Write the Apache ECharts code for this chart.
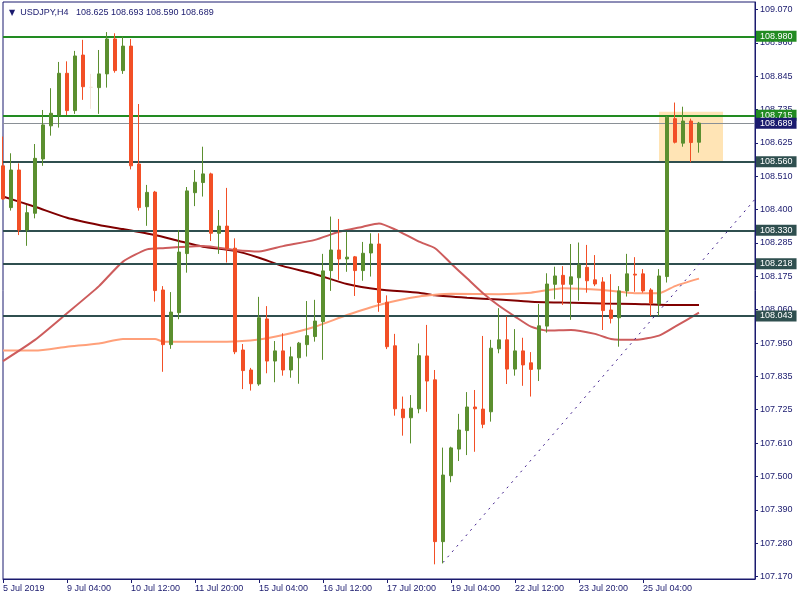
<!DOCTYPE html>
<html>
<head>
<meta charset="utf-8">
<script src="https://cdn.jsdelivr.net/npm/echarts@6/dist/echarts.min.js"></script>
<style>
  html, body { margin: 0; padding: 0; background: #ffffff; }
  #usdjpyChart { width: 800px; height: 600px; }
</style>
</head>
<body>
<div id="usdjpyChart"></div>
<script>
  // USDJPY H4 candles (index 0 = first visible bar)
  var openPrices = [108.546, 108.406, 108.532, 108.331, 108.387, 108.569, 108.680, 108.716, 108.856, 108.731,
    108.917, 108.809, 108.808, 108.854, 108.971, 108.865, 108.947, 108.552, 108.409, 108.458,
    108.130, 107.947, 108.054, 108.252, 108.456, 108.490, 108.519, 108.320, 108.344, 108.270,
    107.929, 107.862, 107.815, 108.033, 107.892, 107.926, 107.862, 107.903, 107.947, 107.974,
    108.024, 108.195, 108.264, 108.234, 108.241, 108.195, 108.254, 108.284, 108.089, 107.943,
    107.731, 107.702, 107.732, 107.909, 107.829, 107.287, 107.508, 107.597, 107.659, 107.738,
    107.731, 107.722, 107.933, 107.963, 107.865, 107.926, 107.886, 107.865, 108.009, 108.149,
    108.179, 108.149, 108.171, 108.206, 108.164, 108.157, 108.063, 108.037, 108.127, 108.183,
    108.184, 108.130, 108.083, 108.175, 108.704, 108.622, 108.696, 108.625];
  var closePrices = [108.435, 108.532, 108.331, 108.389, 108.571, 108.683, 108.722, 108.856, 108.731, 108.914,
    108.811, 108.809, 108.854, 108.971, 108.865, 108.947, 108.546, 108.406, 108.457, 108.128,
    107.947, 108.056, 108.257, 108.462, 108.491, 108.519, 108.320, 108.344, 108.270, 107.923,
    107.860, 107.816, 108.037, 107.892, 107.926, 107.862, 107.906, 107.952, 107.977, 108.026,
    108.194, 108.264, 108.234, 108.240, 108.195, 108.253, 108.284, 108.088, 107.940, 107.732,
    107.702, 107.734, 107.910, 107.825, 107.287, 107.510, 107.601, 107.661, 107.738, 107.732,
    107.680, 107.935, 107.963, 107.865, 107.926, 107.879, 107.864, 108.010, 108.150, 108.177,
    108.149, 108.174, 108.214, 108.161, 108.150, 108.061, 108.035, 108.127, 108.184, 108.180,
    108.127, 108.085, 108.177, 108.709, 108.625, 108.696, 108.624, 108.689];
  var highPrices = [108.644, 108.588, 108.554, 108.415, 108.619, 108.733, 108.806, 108.894, 108.896, 108.931,
    108.968, 108.854, 108.934, 108.994, 108.990, 108.979, 108.971, 108.753, 108.482, 108.462,
    108.143, 108.123, 108.331, 108.475, 108.532, 108.610, 108.523, 108.398, 108.472, 108.303,
    107.949, 107.869, 108.107, 108.076, 107.959, 107.985, 107.940, 107.956, 108.093, 108.097,
    108.251, 108.376, 108.368, 108.325, 108.244, 108.291, 108.320, 108.320, 108.112, 107.983,
    107.773, 107.778, 107.951, 108.013, 107.862, 107.602, 107.605, 107.715, 107.788, 107.795,
    107.976, 107.963, 108.069, 108.041, 107.999, 107.970, 107.922, 108.083, 108.186, 108.208,
    108.210, 108.284, 108.289, 108.281, 108.247, 108.173, 108.183, 108.143, 108.251, 108.240,
    108.200, 108.136, 108.200, 108.713, 108.758, 108.744, 108.704, 108.693];
  var lowPrices = [108.432, 108.396, 108.314, 108.278, 108.370, 108.546, 108.647, 108.674, 108.716, 108.720,
    108.767, 108.737, 108.720, 108.808, 108.858, 108.854, 108.534, 108.396, 108.345, 108.091,
    107.856, 107.933, 108.032, 108.188, 108.411, 108.443, 108.294, 108.251, 108.222, 107.915,
    107.798, 107.793, 107.809, 107.851, 107.821, 107.843, 107.836, 107.816, 107.907, 107.957,
    107.896, 108.127, 108.164, 108.191, 108.110, 108.161, 108.175, 108.057, 107.932, 107.709,
    107.642, 107.616, 107.717, 107.722, 107.211, 107.214, 107.486, 107.557, 107.577, 107.588,
    107.667, 107.689, 107.918, 107.815, 107.843, 107.809, 107.773, 107.825, 107.987, 108.099,
    108.080, 108.030, 108.094, 108.121, 108.143, 107.996, 108.018, 107.940, 108.108, 108.124,
    108.121, 108.043, 108.043, 108.155, 108.621, 108.610, 108.558, 108.590];

  // moving averages, [bar index, price] read at points along each curve
  var maSlow = [[0, 108.443], [4, 108.409], [8, 108.372], [12, 108.348], [15, 108.334], [19, 108.314],
    [22, 108.294], [25, 108.275], [29, 108.261], [32, 108.238], [35, 108.210], [39, 108.183],
    [43, 108.150], [47, 108.132], [52, 108.121], [54, 108.112], [58, 108.104], [62, 108.098],
    [66, 108.091], [70, 108.088], [75, 108.085], [79, 108.083], [83, 108.080], [87, 108.080]];
  var maMid = [[0, 107.892], [4, 107.963], [8, 108.052], [12, 108.143], [15, 108.225], [18, 108.266],
    [20, 108.270], [25, 108.277], [29, 108.264], [32, 108.259], [35, 108.277], [39, 108.298],
    [42, 108.325], [45, 108.342], [47, 108.353], [49, 108.333], [52, 108.292], [54, 108.270],
    [56, 108.219], [58, 108.169], [60, 108.119], [62, 108.077], [64, 108.041], [66, 108.007],
    [68, 107.994], [71, 107.996], [74, 107.983], [76, 107.966], [79, 107.963], [82, 107.977],
    [84, 108.007], [87, 108.054]];
  var maLight = [[0, 107.927], [4, 107.927], [8, 107.940], [12, 107.951], [15, 107.966], [19, 107.966],
    [20, 107.957], [28, 107.957], [32, 107.964], [35, 107.979], [39, 108.007], [43, 108.046],
    [47, 108.080], [52, 108.108], [56, 108.117], [62, 108.116], [66, 108.121], [70, 108.136],
    [75, 108.130], [79, 108.119], [82, 108.119], [84, 108.143], [87, 108.168]];

  var resistanceLevels = [108.980, 108.715];
  var supportLevels = [108.560, 108.330, 108.218, 108.043];
  var bidPrice = 108.689;
  var trendFrom = [55, 107.217];
  var trendTo = [94, 108.434];
  var boxFrom = [82, 108.727];
  var boxTo = [90, 108.557];

  var xTickLabels = ['5 Jul 2019', '9 Jul 04:00', '10 Jul 12:00', '11 Jul 20:00', '15 Jul 04:00', '16 Jul 12:00',
    '17 Jul 20:00', '19 Jul 04:00', '22 Jul 12:00', '23 Jul 20:00', '25 Jul 04:00'];
  var yTickLabels = ['107.170', '107.280', '107.390', '107.500', '107.610', '107.725', '107.835', '107.950', '108.060',
    '108.175', '108.285', '108.400', '108.510', '108.625', '108.735', '108.845', '108.960', '109.070'];

  var barCount = 95; // visible slots incl. empty space on the right
  var barSlots = [];
  for (var i = 0; i < barCount; i++) barSlots.push(String(i));

  var candles = openPrices.map(function (o, i) {
    return [o, closePrices[i], lowPrices[i], highPrices[i]];
  });

  var yFirst = 107.170, yStep = (109.070 - 107.170) / (yTickLabels.length - 1);
  var yTickValues = yTickLabels.map(function (s, i) { return yFirst + i * yStep; });

  var navy = '#1a1a6e';
  var font = 'Liberation Sans';
  var last = candles.length - 1;

  function showTick(index) {
    return index % 8 === 0 && index / 8 < xTickLabels.length;
  }

  function levelLine(value, color, width, boxColor) {
    return {
      yAxis: value,
      lineStyle: {color: color, width: width, type: 'solid'},
      label: {backgroundColor: boxColor || color, formatter: value.toFixed(3)}
    };
  }

  var chart = echarts.init(document.getElementById('usdjpyChart'));
  chart.setOption({
    animation: false,
    backgroundColor: '#ffffff',
    title: {
      left: 4,
      top: 3,
      text: '{tri|▼}  USDJPY,H4   ' + openPrices[last].toFixed(3) + ' ' + highPrices[last].toFixed(3) + ' ' +
        lowPrices[last].toFixed(3) + ' ' + closePrices[last].toFixed(3),
      textStyle: {
        color: navy, fontSize: 9, fontWeight: 'normal', fontFamily: font,
        rich: {tri: {color: navy, fontSize: 8, fontFamily: 'DejaVu Sans'}}
      }
    },
    grid: {left: 3, right: 45, top: 2, bottom: 21, show: true, borderColor: navy, borderWidth: 1},
    xAxis: {
      type: 'category',
      data: barSlots,
      boundaryGap: false,
      axisLine: {lineStyle: {color: navy, width: 1}},
      axisTick: {interval: showTick, length: 4, lineStyle: {color: navy}},
      axisLabel: {
        interval: showTick,
        align: 'left',
        margin: 5,
        color: navy,
        fontSize: 9,
        fontFamily: font,
        formatter: function (v) { return xTickLabels[Number(v) / 8] || ''; }
      },
      splitLine: {show: false}
    },
    yAxis: {
      type: 'value',
      position: 'right',
      min: 107.1618,
      max: 109.0948,
      scale: true,
      axisLine: {show: true, lineStyle: {color: navy, width: 1}},
      axisTick: {show: true, length: 3, customValues: yTickValues, lineStyle: {color: navy}},
      axisLabel: {
        customValues: yTickValues,
        margin: 5,
        color: navy,
        fontSize: 9,
        fontFamily: font,
        formatter: function (v) { return yTickLabels[Math.round((v - yFirst) / yStep)]; }
      },
      splitLine: {show: false}
    },
    series: [
      {
        name: 'levels',
        type: 'line',
        data: [],
        z: 1,
        silent: true,
        markArea: {
          silent: true,
          itemStyle: {color: '#ffe4b5'},
          data: [[{coord: boxFrom}, {coord: boxTo}]]
        },
        markLine: {
          silent: true,
          precision: 3,
          symbol: ['none', 'none'],
          label: {
            show: true,
            position: 'end',
            distance: 1,
            color: '#ffffff',
            fontSize: 9,
            fontFamily: font,
            lineHeight: 10,
            padding: [1, 4, 0, 4]
          },
          data: resistanceLevels.map(function (v) { return levelLine(v, '#228b22', 2); })
            .concat(supportLevels.map(function (v) { return levelLine(v, '#2f4f4f', 2); }))
            .concat([levelLine(bidPrice, '#8a9096', 1, navy)])
            .concat([[
              {coord: trendFrom, lineStyle: {color: '#3c1a8a', width: 1, type: [2, 5]}, label: {show: false}},
              {coord: trendTo}
            ]])
        }
      },
      {
        name: 'MA slow', type: 'line', data: maSlow, z: 2, showSymbol: false, smooth: 0.2,
        lineStyle: {color: '#800000', width: 2}
      },
      {
        name: 'MA light', type: 'line', data: maLight, z: 2, showSymbol: false, smooth: 0.2,
        lineStyle: {color: '#ffa07a', width: 2}
      },
      {
        name: 'MA mid', type: 'line', data: maMid, z: 2, showSymbol: false, smooth: 0.2,
        lineStyle: {color: '#cd5c5c', width: 2}
      },
      {
        name: 'USDJPY', type: 'candlestick', data: candles, z: 5, barWidth: 4,
        itemStyle: {
          color: '#5b8f2f', color0: '#f24f26',
          borderColor: '#5b8f2f', borderColor0: '#f24f26',
          borderColorDoji: '#f3e3d8', borderWidth: 1
        }
      }
    ]
  });
</script>
</body>
</html>
